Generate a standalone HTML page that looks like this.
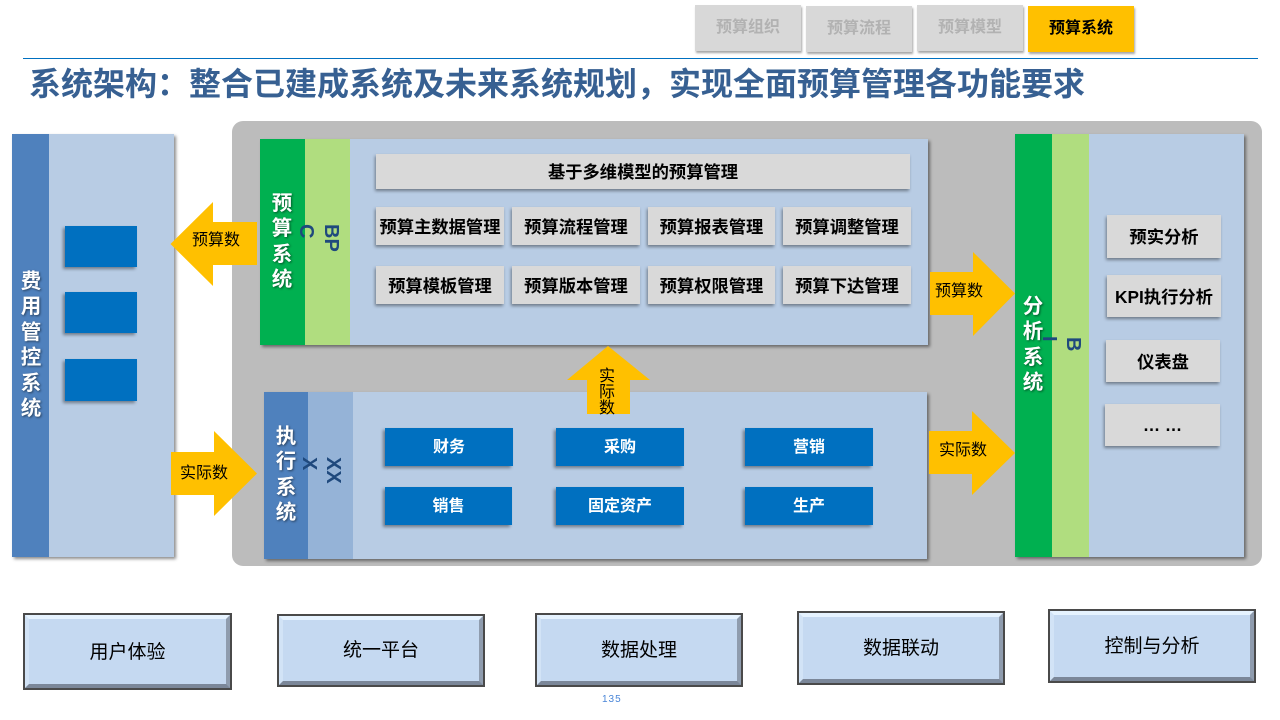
<!DOCTYPE html>
<html lang="zh">
<head>
<meta charset="utf-8">
<title>系统架构</title>
<style>
html,body{margin:0;padding:0;background:#fff;}
#p{position:relative;width:1280px;height:720px;overflow:hidden;background:#fff;font-family:"Liberation Sans","Noto Sans CJK SC",sans-serif;}
#p div{position:absolute;box-sizing:border-box;}
.tab{width:106px;height:46px;background:#d8d8d8;color:#b2b2b2;font-weight:700;font-size:16px;line-height:46px;text-align:center;box-shadow:1px 2px 2px rgba(0,0,0,.35);}
.panel{background:#b8cce4;box-shadow:2px 2px 3px rgba(0,0,0,.45);}
.g{background:#d9d9d9;color:#000;font-weight:700;font-size:17.3px;text-align:center;box-shadow:-1px 2px 3px rgba(0,0,0,.4);white-space:nowrap;}
.b{background:#0070c0;color:#fff;font-weight:700;font-size:16px;text-align:center;box-shadow:-2px 2px 3px rgba(0,0,0,.4);white-space:nowrap;}
.v{width:40px;color:#fff;font-weight:700;font-size:20.5px;line-height:25.4px;text-align:center;text-shadow:1px 1px 2px rgba(0,0,0,.5);}
.r{color:#1f497d;font-weight:700;font-size:20px;line-height:20px;writing-mode:vertical-rl;white-space:nowrap;font-family:"Liberation Sans",sans-serif;}
.bev{background:#c5d9f1;border:2px solid #4a4a4a;}
.bev div{left:0;top:0;right:0;bottom:0;border-style:solid;border-width:4px;border-color:#e6f3ff #8f9cae #7b8799 #d2e3f6;color:#000;font-size:19px;text-align:center;}
.t{color:#000;font-size:16px;white-space:nowrap;line-height:20px;}
svg{position:absolute;left:0;top:0;}
</style>
</head>
<body>
<div id="p">
  <div class="tab" style="left:695px;top:5px;">预算组织</div>
  <div class="tab" style="left:806px;top:6px;">预算流程</div>
  <div class="tab" style="left:917px;top:5px;">预算模型</div>
  <div class="tab" style="left:1028px;top:6px;background:#ffc000;color:#000;">预算系统</div>
  <div style="left:23px;top:58px;width:1235px;height:1px;background:#0070c0;"></div>
  <div style="left:29px;top:62px;width:1200px;height:44px;line-height:44px;font-size:32px;font-weight:700;color:#376092;white-space:nowrap;">系统架构：整合已建成系统及未来系统规划，实现全面预算管理各功能要求</div>

  <div style="left:232px;top:121px;width:1030px;height:445px;background:#bcbcbc;border-radius:11px;"></div>

  <!-- left panel -->
  <div class="panel" style="left:12px;top:134px;width:162px;height:423px;"></div>
  <div style="left:12px;top:134px;width:37px;height:423px;background:#4f81bd;"></div>
  <div class="v" style="left:11px;top:269px;">费<br>用<br>管<br>控<br>系<br>统</div>
  <div class="b" style="left:65px;top:226px;width:72px;height:41px;"></div>
  <div class="b" style="left:65px;top:292px;width:72px;height:41px;"></div>
  <div class="b" style="left:65px;top:359px;width:72px;height:42px;"></div>

  <!-- budget panel -->
  <div class="panel" style="left:260px;top:139px;width:668px;height:206px;"></div>
  <div style="left:260px;top:139px;width:45px;height:206px;background:#00b050;"></div>
  <div style="left:305px;top:139px;width:45px;height:206px;background:#b0dd7f;"></div>
  <div class="v" style="left:262px;top:191px;">预<br>算<br>系<br>统</div>
  <div class="r" style="left:321px;top:224px;">BP</div>
  <div class="r" style="left:296px;top:224px;">C</div>

  <div class="g" style="left:376px;top:154px;width:534px;height:35px;line-height:36px;">基于多维模型的预算管理</div>
  <div class="g" style="left:376px;top:207px;width:128px;height:38px;line-height:40px;">预算主数据管理</div>
  <div class="g" style="left:512px;top:207px;width:128px;height:38px;line-height:40px;">预算流程管理</div>
  <div class="g" style="left:648px;top:207px;width:127px;height:38px;line-height:40px;">预算报表管理</div>
  <div class="g" style="left:783px;top:207px;width:128px;height:38px;line-height:40px;">预算调整管理</div>
  <div class="g" style="left:376px;top:266px;width:128px;height:38px;line-height:40px;">预算模板管理</div>
  <div class="g" style="left:512px;top:266px;width:128px;height:38px;line-height:40px;">预算版本管理</div>
  <div class="g" style="left:648px;top:266px;width:127px;height:38px;line-height:40px;">预算权限管理</div>
  <div class="g" style="left:783px;top:266px;width:128px;height:38px;line-height:40px;">预算下达管理</div>

  <!-- exec panel -->
  <div class="panel" style="left:264px;top:392px;width:663px;height:167px;"></div>
  <div style="left:264px;top:392px;width:44px;height:167px;background:#4f81bd;"></div>
  <div style="left:308px;top:392px;width:45px;height:167px;background:#95b3d7;"></div>
  <div class="v" style="left:266px;top:424px;">执<br>行<br>系<br>统</div>
  <div class="r" style="left:323px;top:457px;">XX</div>
  <div class="r" style="left:299px;top:457px;">X</div>

  <div class="b" style="left:385px;top:428px;width:128px;height:38px;line-height:39px;">财务</div>
  <div class="b" style="left:556px;top:428px;width:128px;height:38px;line-height:39px;">采购</div>
  <div class="b" style="left:745px;top:428px;width:128px;height:38px;line-height:39px;">营销</div>
  <div class="b" style="left:385px;top:487px;width:127px;height:38px;line-height:39px;">销售</div>
  <div class="b" style="left:556px;top:487px;width:128px;height:38px;line-height:39px;">固定资产</div>
  <div class="b" style="left:745px;top:487px;width:128px;height:38px;line-height:39px;">生产</div>

  <!-- right panel -->
  <div class="panel" style="left:1015px;top:134px;width:229px;height:423px;"></div>
  <div style="left:1015px;top:134px;width:37px;height:423px;background:#00b050;"></div>
  <div style="left:1052px;top:134px;width:37px;height:423px;background:#b0dd7f;"></div>
  <div class="v" style="left:1013px;top:294px;">分<br>析<br>系<br>统</div>
  <div class="r" style="left:1063px;top:337px;">B</div>
  <div class="r" style="left:1039px;top:336px;">I</div>

  <div class="g" style="left:1107px;top:215px;width:114px;height:43px;line-height:45px;">预实分析</div>
  <div class="g" style="left:1107px;top:275px;width:114px;height:42px;line-height:44px;">KPI执行分析</div>
  <div class="g" style="left:1106px;top:340px;width:114px;height:42px;line-height:44px;">仪表盘</div>
  <div class="g" style="left:1105px;top:404px;width:115px;height:42px;line-height:42px;">… …</div>

  <!-- arrows -->
  <svg width="1280" height="720" viewBox="0 0 1280 720">
    <polygon fill="#ffc000" points="170.5,244 213,202 213,222 257,222 257,265 213,265 213,286"/>
    <polygon fill="#ffc000" points="171,452 214,452 214,431 257,473.5 214,516 214,495 171,495"/>
    <polygon fill="#ffc000" points="930,272 973,272 973,252 1015,293.5 973,336 973,315 930,315"/>
    <polygon fill="#ffc000" points="929,431 972,431 972,411 1015,453 972,495 972,474 929,474"/>
    <polygon fill="#ffc000" points="608,346 650,380 630,380 630,414 587,414 587,380 567,380"/>
  </svg>
  <div class="t" style="left:192px;top:231px;">预算数</div>
  <div class="t" style="left:180px;top:464px;">实际数</div>
  <div class="t" style="left:935px;top:282px;">预算数</div>
  <div class="t" style="left:939px;top:441px;">实际数</div>
  <div class="t" style="left:599px;top:369px;width:16px;line-height:16px;white-space:normal;">实际数</div>

  <!-- bottom -->
  <div class="bev" style="left:23px;top:613px;width:209px;height:77px;"><div style="line-height:67px;">用户体验</div></div>
  <div class="bev" style="left:277px;top:614px;width:208px;height:73px;"><div style="line-height:61px;">统一平台</div></div>
  <div class="bev" style="left:535px;top:613px;width:208px;height:74px;"><div style="line-height:64px;">数据处理</div></div>
  <div class="bev" style="left:797px;top:611px;width:208px;height:74px;"><div style="line-height:64px;">数据联动</div></div>
  <div class="bev" style="left:1048px;top:609px;width:208px;height:74px;"><div style="line-height:64px;">控制与分析</div></div>

  <div style="left:602px;top:694px;font-size:10px;line-height:12px;letter-spacing:1px;color:#4a86d8;">135</div>
</div>
</body>
</html>
